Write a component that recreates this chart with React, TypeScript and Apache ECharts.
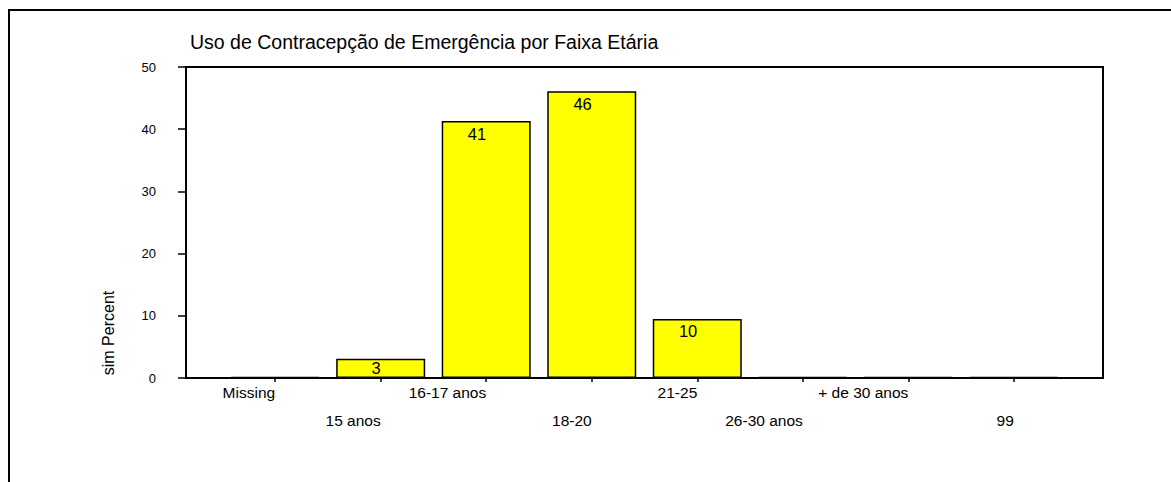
import React, { useEffect, useRef } from "react";
import * as echarts from "echarts";

const titleText = "Uso de Contracepção de Emergência por Faixa Etária";
const yAxisTitle = "sim Percent";
const categories = [
  "Missing",
  "15 anos",
  "16-17 anos",
  "18-20",
  "21-25",
  "26-30 anos",
  "+ de 30 anos",
  "99",
];
const percentValues = [0, 3.1, 41.3, 46.1, 9.5, 0, 0, 0];
const yMin = 0;
const yMax = 50;
const yStep = 10;

const FONT = "'Liberation Sans', Arial, Helvetica, sans-serif";

export default function App() {
  const ref = useRef<HTMLDivElement>(null);

  useEffect(() => {
    document.body.style.margin = "0";
    if (!ref.current) return;
    const chart = echarts.init(ref.current, null, { renderer: "svg" });
    const idx = categories.map((_, i) => i);
    const option: any = {
      animation: false,
      backgroundColor: "#ffffff",
      title: {
        text: titleText,
        left: 185,
        top: 27,
        textStyle: {
          fontFamily: FONT,
          fontSize: 19.5,
          fontWeight: "normal",
          color: "#000",
        },
      },
      graphic: [
        {
          type: "rect",
          silent: true,
          z: -10,
          shape: { x: 9, y: 10, width: 1400, height: 800 },
          style: { fill: "none", stroke: "#000", lineWidth: 2 },
        },
        {
          type: "text",
          silent: true,
          x: 108,
          y: 333,
          rotation: Math.PI / 2,
          style: {
            text: yAxisTitle,
            fontFamily: FONT,
            fontSize: 16,
            fill: "#000",
            align: "center",
            verticalAlign: "middle",
          },
        },
      ],
      grid: {
        left: 186,
        top: 67,
        right: 68,
        bottom: 104,
        show: true,
        borderColor: "#000",
        borderWidth: 2,
        backgroundColor: "transparent",
      },
      xAxis: {
        type: "value",
        min: -0.845,
        max: categories.length - 1 + 0.845,
        splitLine: { show: false },
        axisLine: { show: true, onZero: false, lineStyle: { color: "#000", width: 2 } },
        axisTick: {
          show: true,
          length: 4,
          customValues: idx,
          lineStyle: { color: "#000", width: 1.5 },
        },
        axisLabel: {
          show: true,
          customValues: idx,
          align: "right",
          margin: 7,
          lineHeight: 14,
          fontFamily: FONT,
          fontSize: 15.5,
          color: "#000",
          formatter: (v: number) => {
            const i = Math.round(v);
            const name = categories[i] ?? "";
            return i % 2 === 1 ? "\n\n" + name : name;
          },
        },
      },
      yAxis: {
        type: "value",
        min: yMin,
        max: yMax,
        interval: yStep,
        splitLine: { show: false },
        axisLine: { show: true, onZero: false, lineStyle: { color: "#000", width: 2 } },
        axisTick: {
          show: true,
          length: 8,
          inside: false,
          lineStyle: { color: "#000", width: 1.5 },
        },
        axisLabel: {
          margin: 30,
          fontFamily: FONT,
          fontSize: 13,
          color: "#000",
        },
      },
      series: [
        {
          type: "bar",
          barWidth: 89,
          barMinHeight: 1,
          data: percentValues.map((v, i) => ({
            value: [i, v],
            label: { distance: v < 5 ? 1 : 4 },
          })),
          itemStyle: {
            color: "#ffff00",
            borderColor: "#000",
            borderWidth: 1.5,
          },
          label: {
            show: true,
            position: "insideTop",
            distance: 4,
            align: "right",
            fontFamily: FONT,
            fontSize: 16.5,
            color: "#000",
            formatter: (p: any) => {
              const v = p.value[1];
              return v > 0 ? String(Math.round(v)) : "";
            },
          },
        },
      ],
    };
    chart.setOption(option);
    return () => chart.dispose();
  }, []);

  return <div ref={ref} style={{ width: 1171, height: 482 }} />;
}
